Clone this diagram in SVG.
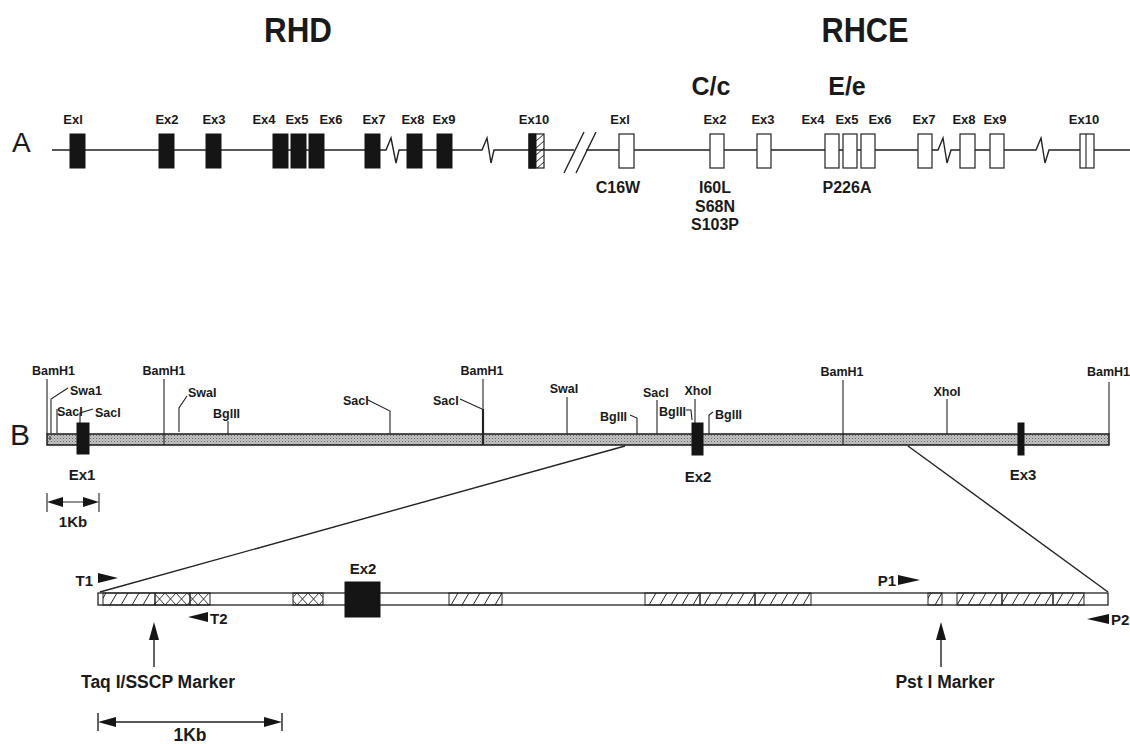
<svg xmlns="http://www.w3.org/2000/svg" width="1130" height="744" viewBox="0 0 1130 744">
<style>
text{font-family:"Liberation Sans",Arial,Helvetica,sans-serif;font-weight:bold;fill:#1a1a1a}
.ex{font-size:13px;text-anchor:middle}
.mut{font-size:16px;text-anchor:middle}
.re{font-size:12.5px}
.big{font-size:17.5px;text-anchor:middle}
.pr{font-size:15px}
.ln{stroke:#222;stroke-width:1.4;fill:none}
.thin{stroke:#222;stroke-width:1.1;fill:none}
.bk{fill:#151515;stroke:#151515;stroke-width:1}
.wh{fill:#fff;stroke:#222;stroke-width:1.2}
.tri{fill:#151515}
</style>
<defs>
<pattern id="hatch" patternUnits="userSpaceOnUse" x="0" y="593" width="11" height="12"><path d="M0,12 L7,0 M11,12 L18,0" stroke="#222" stroke-width="1"/></pattern>
<pattern id="xhatch" patternUnits="userSpaceOnUse" x="0" y="593" width="11" height="12"><path d="M0,0 L11,12 M0,12 L11,0" stroke="#222" stroke-width="0.9"/></pattern>
<pattern id="hatchA" patternUnits="userSpaceOnUse" x="0" y="134" width="8" height="7"><path d="M0,7 L8,0" stroke="#222" stroke-width="1"/></pattern>
<pattern id="stip" patternUnits="userSpaceOnUse" width="3" height="3"><rect width="3" height="3" fill="#c4c4c4"/><rect width="1" height="1" fill="#666"/><rect x="1.5" y="1.5" width="1" height="1" fill="#888"/></pattern>
</defs>
<rect width="1130" height="744" fill="#fff"/>

<!-- Panel A -->
<g id="panelA-titles">
<text x="298" y="42" font-size="35" text-anchor="middle" textLength="68" lengthAdjust="spacingAndGlyphs">RHD</text>
<text x="865" y="42" font-size="35" text-anchor="middle" textLength="87" lengthAdjust="spacingAndGlyphs">RHCE</text>
<text x="711" y="95" font-size="25" text-anchor="middle">C/c</text>
<text x="847" y="95" font-size="25" text-anchor="middle">E/e</text>
<text x="12" y="152" font-size="28" style="font-weight:normal">A</text>
</g>
<g id="connectors">
<path class="ln" d="M52,150 H386 L391,138 L396,163 L399,150 H482 L487,138 L491,163 L494,150 H574"/>
<path class="ln" d="M586,150 H938 L943,138 L947,163 L951,150 H1036 L1041,138 L1045,163 L1049,150 H1130"/>
<path class="ln" d="M564,173 L584,132 M576,173 L596,132"/>
<path class="ln" d="M625,446 L100,592"/>
<path class="ln" d="M908,446 L1108,592"/>
</g>
<g id="rhd-exons">
<g id="rhd-ex1"><rect class="bk" x="70" y="134" width="15" height="34"/><text class="ex" x="73" y="124">Exl</text></g>
<g id="rhd-ex2"><rect class="bk" x="159" y="134" width="15" height="34"/><text class="ex" x="167" y="124">Ex2</text></g>
<g id="rhd-ex3"><rect class="bk" x="206" y="134" width="15" height="34"/><text class="ex" x="214" y="124">Ex3</text></g>
<g id="rhd-ex4"><rect class="bk" x="273" y="134" width="15" height="34"/><text class="ex" x="264" y="124">Ex4</text></g>
<g id="rhd-ex5"><rect class="bk" x="291" y="134" width="15" height="34"/><text class="ex" x="297" y="124">Ex5</text></g>
<g id="rhd-ex6"><rect class="bk" x="309" y="134" width="15" height="34"/><text class="ex" x="331" y="124">Ex6</text></g>
<g id="rhd-ex7"><rect class="bk" x="365" y="134" width="15" height="34"/><text class="ex" x="374" y="124">Ex7</text></g>
<g id="rhd-ex8"><rect class="bk" x="407" y="134" width="15" height="34"/><text class="ex" x="413" y="124">Ex8</text></g>
<g id="rhd-ex9"><rect class="bk" x="437" y="134" width="15" height="34"/><text class="ex" x="444" y="124">Ex9</text></g>
<g id="rhd-ex10"><rect x="529" y="134" width="15" height="34" fill="url(#hatchA)" stroke="#222" stroke-width="1.2"/><rect class="bk" x="529" y="134" width="7" height="34"/><text class="ex" x="534" y="124">Ex10</text></g>
</g>
<g id="rhce-exons">
<g id="rhce-ex1"><rect class="wh" x="619" y="134" width="15" height="34"/><text class="ex" x="620" y="124">Exl</text><text class="mut" x="618" y="193">C16W</text></g>
<g id="rhce-ex2"><rect class="wh" x="710" y="134" width="14" height="34"/><text class="ex" x="715" y="124">Ex2</text><text class="mut" x="715" y="193">I60L</text><text class="mut" x="715" y="212">S68N</text><text class="mut" x="715" y="230">S103P</text></g>
<g id="rhce-ex3"><rect class="wh" x="757" y="134" width="14" height="34"/><text class="ex" x="763" y="124">Ex3</text></g>
<g id="rhce-ex4"><rect class="wh" x="825" y="134" width="14" height="34"/><text class="ex" x="813" y="124">Ex4</text></g>
<g id="rhce-ex5"><rect class="wh" x="843" y="134" width="14" height="34"/><text class="ex" x="847" y="124">Ex5</text><text class="mut" x="847" y="193">P226A</text></g>
<g id="rhce-ex6"><rect class="wh" x="861" y="134" width="14" height="34"/><text class="ex" x="880" y="124">Ex6</text></g>
<g id="rhce-ex7"><rect class="wh" x="918" y="134" width="14" height="34"/><text class="ex" x="924" y="124">Ex7</text></g>
<g id="rhce-ex8"><rect class="wh" x="960" y="134" width="15" height="34"/><text class="ex" x="964" y="124">Ex8</text></g>
<g id="rhce-ex9"><rect class="wh" x="990" y="134" width="14" height="34"/><text class="ex" x="995" y="124">Ex9</text></g>
<g id="rhce-ex10"><rect class="wh" x="1080" y="134" width="14" height="34"/><line class="thin" x1="1086" y1="134" x2="1086" y2="168"/><text class="ex" x="1084" y="124">Ex10</text></g>
</g>

<!-- Panel B -->
<g id="panelB">
<text x="10" y="445" font-size="30" style="font-weight:normal">B</text>
<g id="b-strip">
<rect x="47" y="434" width="1062" height="11" fill="url(#stip)" stroke="#1a1a1a" stroke-width="1.5"/>
<line class="thin" x1="50" y1="436" x2="50" y2="440"/>
</g>
<g id="b-ex1"><rect class="bk" x="77" y="423" width="12" height="31"/><text class="pr" x="82" y="480" text-anchor="middle">Ex1</text></g>
<g id="b-ex2"><rect class="bk" x="692" y="423" width="11" height="32"/><text class="pr" x="698" y="482" text-anchor="middle">Ex2</text></g>
<g id="b-ex3"><rect class="bk" x="1018" y="423" width="6" height="32"/><text class="pr" x="1023" y="480" text-anchor="middle">Ex3</text></g>
<g id="b-sites">
<g id="site-bamh1-1"><path class="thin" d="M47,379 V434"/><text class="re" x="32" y="375">BamH1</text></g>
<g id="site-swa1"><path class="thin" d="M51,433 V399 L68,388"/><text class="re" x="70" y="395">Swa1</text></g>
<g id="site-saci-1"><path class="thin" d="M57,433 V409"/><text class="re" x="57" y="416">SacI</text></g>
<g id="site-saci-2"><path class="thin" d="M80,423 V413 L93,409"/><text class="re" x="95" y="417">SacI</text></g>
<g id="site-bamh1-2"><path class="thin" d="M164,379 V445"/><text class="re" x="164" y="375" text-anchor="middle">BamH1</text></g>
<g id="site-swai-1"><path class="thin" d="M179,432 V408 L187,396"/><text class="re" x="188" y="397">SwaI</text></g>
<g id="site-bglii-1"><path class="thin" d="M228,421 V434"/><text class="re" x="213" y="418">BglII</text></g>
<g id="site-saci-3"><path class="thin" d="M368,400 L390,411 V434"/><text class="re" x="343" y="405">SacI</text></g>
<g id="site-saci-4"><path class="thin" d="M460,399 L482,409"/><text class="re" x="433" y="405">SacI</text></g>
<g id="site-bamh1-3"><path class="thin" d="M483,379 V445"/><path d="M483,409 V445" stroke="#222" stroke-width="2.2"/><text class="re" x="482" y="375" text-anchor="middle">BamH1</text></g>
<g id="site-swai-2"><path class="thin" d="M567,397 V434"/><text class="re" x="564" y="393" text-anchor="middle">SwaI</text></g>
<g id="site-bglii-2"><path class="thin" d="M630,415 L637,418 V434"/><text class="re" x="600" y="421">BglII</text></g>
<g id="site-saci-5"><path class="thin" d="M657,400 V434"/><text class="re" x="643" y="397">SacI</text></g>
<g id="site-xhoi-1"><path class="thin" d="M695,399 V423"/><text class="re" x="698" y="395" text-anchor="middle">XhoI</text></g>
<g id="site-bglii-3"><path class="thin" d="M686,410 H691 L692,420"/><text class="re" x="659" y="416">BglII</text></g>
<g id="site-bglii-4"><path class="thin" d="M713,412 L709,415 V434"/><text class="re" x="715" y="419">BglII</text></g>
<g id="site-bamh1-4"><path class="thin" d="M843,380 V445"/><text class="re" x="842" y="376" text-anchor="middle">BamH1</text></g>
<g id="site-xhoi-2"><path class="thin" d="M947,399 V434"/><text class="re" x="947" y="396" text-anchor="middle">XhoI</text></g>
<g id="site-bamh1-5"><path class="thin" d="M1109,382 V434"/><text class="re" x="1087" y="376">BamH1</text></g>
</g>
<g id="b-scale">
<path class="thin" d="M47,493 V512 M99,493 V512 M60,502 H86"/>
<path class="tri" d="M47,502 L63,497 L63,507 Z M99,502 L83,497 L83,507 Z"/>
<text class="pr" x="73" y="527" text-anchor="middle">1Kb</text>
</g>
</g>

<!-- Expanded region -->
<g id="detail">
<g id="d-strip">
<rect x="98" y="593" width="1010" height="12" fill="#fff" stroke="#222" stroke-width="1.3"/>
<rect x="103" y="593" width="52" height="12" fill="url(#hatch)" stroke="#222" stroke-width="1"/>
<rect x="155" y="593" width="35" height="12" fill="url(#xhatch)" stroke="#222" stroke-width="1"/>
<rect x="190" y="593" width="20" height="12" fill="url(#xhatch)" stroke="#222" stroke-width="1"/>
<rect x="293" y="593" width="30" height="12" fill="url(#xhatch)" stroke="#222" stroke-width="1"/>
<rect x="449" y="593" width="53" height="12" fill="url(#hatch)" stroke="#222" stroke-width="1"/>
<rect x="645" y="593" width="55" height="12" fill="url(#hatch)" stroke="#222" stroke-width="1"/>
<rect x="700" y="593" width="55" height="12" fill="url(#hatch)" stroke="#222" stroke-width="1"/>
<rect x="755" y="593" width="56" height="12" fill="url(#hatch)" stroke="#222" stroke-width="1"/>
<rect x="928" y="593" width="14" height="12" fill="url(#hatch)" stroke="#222" stroke-width="1"/>
<rect x="957" y="593" width="45" height="12" fill="url(#hatch)" stroke="#222" stroke-width="1"/>
<rect x="1002" y="593" width="51" height="12" fill="url(#hatch)" stroke="#222" stroke-width="1"/>
<rect x="1053" y="593" width="31" height="12" fill="url(#hatch)" stroke="#222" stroke-width="1"/>
</g>
<g id="d-ex2"><rect class="bk" x="345" y="582" width="35" height="35"/><text class="pr" x="363" y="574" text-anchor="middle">Ex2</text></g>
<g id="primer-t1"><path class="tri" d="M98,573 L118,578 L98,583 Z"/><text class="pr" x="93" y="586" text-anchor="end">T1</text></g>
<g id="primer-t2"><path class="tri" d="M188,617 L208,612 L208,622 Z"/><text class="pr" x="210" y="624">T2</text></g>
<g id="primer-p1"><path class="tri" d="M898,575 L920,580 L898,585 Z"/><text class="pr" x="896" y="586" text-anchor="end">P1</text></g>
<g id="primer-p2"><path class="tri" d="M1087,619 L1109,614 L1109,624 Z"/><text class="pr" x="1111" y="625">P2</text></g>
<g id="marker-taq"><path class="ln" d="M154,638 V667"/><path class="tri" d="M154,622 L159,640 L149,640 Z"/><text class="big" x="158" y="688">Taq I/SSCP Marker</text></g>
<g id="marker-pst"><path class="ln" d="M941,638 V667"/><path class="tri" d="M941,622 L946,640 L936,640 Z"/><text class="big" x="945" y="688">Pst I Marker</text></g>
<g id="d-scale">
<path class="ln" d="M98,713 V731 M282,713 V731 M112,722 H268"/>
<path class="tri" d="M98,722 L116,717 L116,727 Z M282,722 L264,717 L264,727 Z"/>
<text class="big" x="190" y="741" font-size="17">1Kb</text>
</g>
</g>
</svg>
